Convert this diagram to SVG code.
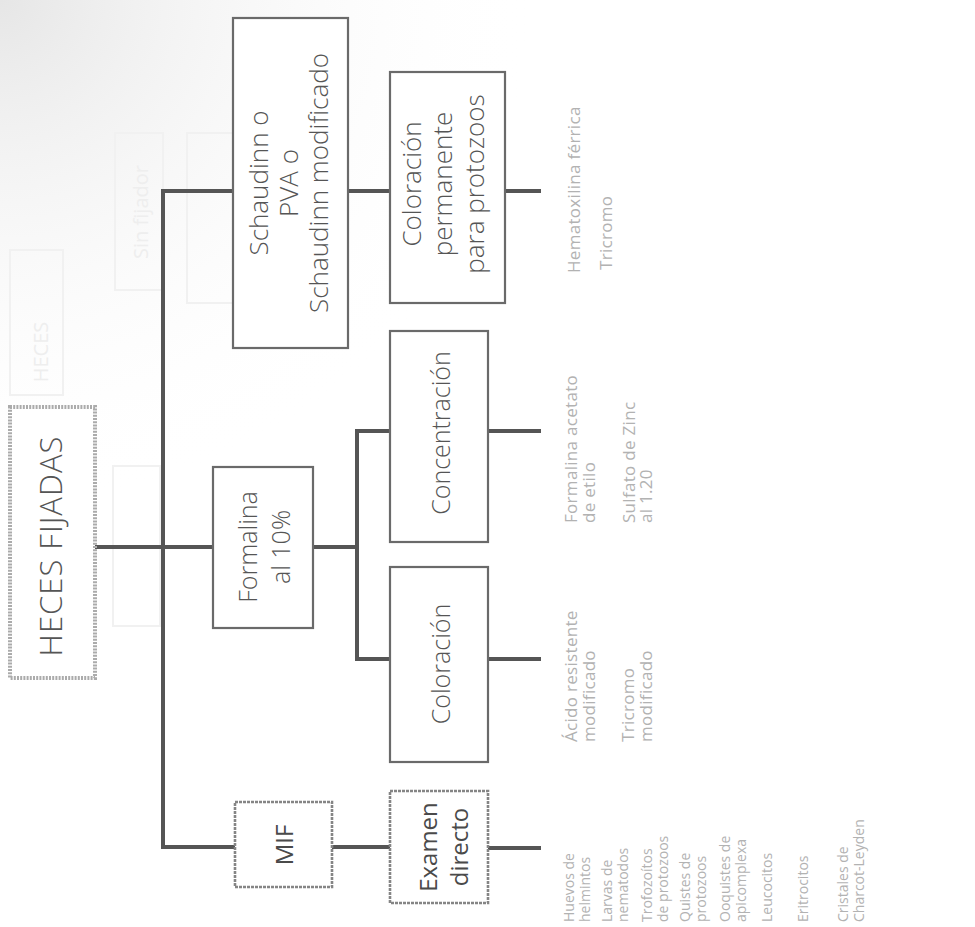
<svg xmlns="http://www.w3.org/2000/svg" width="975" height="927" viewBox="0 0 975 927">
  <defs>
    <radialGradient id="shade" cx="0" cy="0" r="0.55">
      <stop offset="0" stop-color="#e6e6e6"/>
      <stop offset="1" stop-color="#ffffff" stop-opacity="0"/>
    </radialGradient>
    <style>
      .box { fill: #ffffff; stroke: #6a6a6a; stroke-width: 2.2; }
      .box-soft { fill: #ffffff; stroke: #858585; stroke-width: 2.6; stroke-dasharray: 3 1; }
      .box-root { fill: #ffffff; stroke: #ababab; stroke-width: 4; stroke-dasharray: 2 1.2; }
      .wire { fill: none; stroke: #555555; stroke-width: 4; stroke-linejoin: miter; }
      .lbl { font-family: "Open Sans", "Liberation Sans", sans-serif; font-weight: 300; fill: #555555; text-anchor: middle; }
      .lbl-dark { font-family: "Open Sans", "Liberation Sans", sans-serif; font-weight: 400; fill: #4a4a4a; text-anchor: middle; }
      .out { font-family: "Open Sans", "Liberation Sans", sans-serif; font-size: 14px; fill: #b2b2b2; text-anchor: start; }
      .out-l { font-family: "Open Sans", "Liberation Sans", sans-serif; font-size: 17px; letter-spacing: 0.3px; fill: #b2b2b2; text-anchor: start; }
      .ghost { fill: none; stroke: #f1f1f1; stroke-width: 2; }
      .ghost-t { font-family: "Open Sans", "Liberation Sans", sans-serif; font-size: 20px; fill: #eeeeee; text-anchor: middle; }
    </style>
  </defs>

  <!-- paper -->
  <rect width="975" height="927" fill="#ffffff"/>
  <rect width="975" height="927" fill="url(#shade)"/>

  <!-- faint show-through from the reverse side of the sheet -->
  <g id="show-through">
    <rect class="ghost" x="10" y="250" width="53" height="145"/>
    <text class="ghost-t" transform="translate(48,352) rotate(-90)">HECES</text>
    <rect class="ghost" x="115" y="133" width="48" height="157"/>
    <text class="ghost-t" transform="translate(148,212) rotate(-90)">Sin fijador</text>
    <rect class="ghost" x="187" y="133" width="46" height="170"/>
    <rect class="ghost" x="113" y="466" width="47" height="160"/>
  </g>

  <!-- connectors -->
  <g id="connectors">
    <!-- root to first-level trunk -->
    <polyline class="wire" points="95,547 213,547"/>
    <polyline class="wire" points="233,191 163,191 163,847 235,847"/>
    <!-- Schaudinn branch -->
    <polyline class="wire" points="348,191 390,191"/>
    <polyline class="wire" points="505,191 541,191"/>
    <!-- Formalina branch -->
    <polyline class="wire" points="313,547 357,547"/>
    <polyline class="wire" points="390,431 357,431 357,659 390,659"/>
    <polyline class="wire" points="488,431 541,431"/>
    <polyline class="wire" points="488,659 541,659"/>
    <!-- MIF branch -->
    <polyline class="wire" points="332,847 390,847"/>
    <polyline class="wire" points="488,848 541,848"/>
  </g>

  <!-- nodes -->
  <g id="heces-fijadas">
    <rect class="box-root" x="10" y="407" width="85" height="271"/>
    <text class="lbl" font-size="31" letter-spacing="1" transform="translate(62,546) rotate(-90)">HECES FIJADAS</text>
  </g>

  <g id="schaudinn">
    <rect class="box" x="233" y="18" width="115" height="330"/>
    <text class="lbl" font-size="26" transform="translate(268,183) rotate(-90)">Schaudinn o</text>
    <text class="lbl" font-size="26" transform="translate(298,183) rotate(-90)">PVA o</text>
    <text class="lbl" font-size="26" transform="translate(328,183) rotate(-90)">Schaudinn modificado</text>
  </g>

  <g id="coloracion-permanente">
    <rect class="box" x="390" y="72" width="115" height="231"/>
    <text class="lbl" font-size="26" transform="translate(421,184) rotate(-90)">Coloración</text>
    <text class="lbl" font-size="26" transform="translate(452,184) rotate(-90)">permanente</text>
    <text class="lbl" font-size="26" transform="translate(484,184) rotate(-90)">para protozoos</text>
  </g>

  <g id="formalina">
    <rect class="box" x="213" y="467" width="100" height="161"/>
    <text class="lbl" font-size="25" transform="translate(257,547) rotate(-90)">Formalina</text>
    <text class="lbl" font-size="25" transform="translate(290,547) rotate(-90)">al 10%</text>
  </g>

  <g id="concentracion">
    <rect class="box" x="390" y="331" width="98" height="211"/>
    <text class="lbl" font-size="25" transform="translate(450,433) rotate(-90)">Concentración</text>
  </g>

  <g id="coloracion">
    <rect class="box" x="390" y="567" width="98" height="195"/>
    <text class="lbl" font-size="25" transform="translate(450,664) rotate(-90)">Coloración</text>
  </g>

  <g id="mif">
    <rect class="box-soft" x="235" y="802" width="97" height="85"/>
    <text class="lbl-dark" font-size="24" transform="translate(293,845) rotate(-90)">MIF</text>
  </g>

  <g id="examen-directo">
    <rect class="box-soft" x="390" y="791" width="98" height="112"/>
    <text class="lbl-dark" font-size="24" transform="translate(437,847) rotate(-90)">Examen</text>
    <text class="lbl-dark" font-size="24" transform="translate(468,847) rotate(-90)">directo</text>
  </g>

  <!-- findings for each procedure -->
  <g id="findings-permanente">
    <text class="out-l" transform="translate(580,273) rotate(-90)">Hematoxilina férrica</text>
    <text class="out-l" transform="translate(612,270) rotate(-90)">Tricromo</text>
  </g>

  <g id="findings-concentracion">
    <text class="out-l" transform="translate(577,523) rotate(-90)">Formalina acetato</text>
    <text class="out-l" transform="translate(595,523) rotate(-90)">de etilo</text>
    <text class="out-l" transform="translate(635,523) rotate(-90)">Sulfato de Zinc</text>
    <text class="out-l" transform="translate(652,523) rotate(-90)">al 1.20</text>
  </g>

  <g id="findings-coloracion">
    <text class="out-l" transform="translate(577,742) rotate(-90)">Ácido resistente</text>
    <text class="out-l" transform="translate(595,742) rotate(-90)">modificado</text>
    <text class="out-l" transform="translate(634,742) rotate(-90)">Tricromo</text>
    <text class="out-l" transform="translate(652,742) rotate(-90)">modificado</text>
  </g>

  <g id="findings-examen">
    <text class="out" transform="translate(574,922) rotate(-90)">Huevos de</text>
    <text class="out" transform="translate(590,922) rotate(-90)">helmintos</text>
    <text class="out" transform="translate(612,922) rotate(-90)">Larvas de</text>
    <text class="out" transform="translate(628,922) rotate(-90)">nematodos</text>
    <text class="out" transform="translate(652,922) rotate(-90)">Trofozoítos</text>
    <text class="out" transform="translate(668,922) rotate(-90)">de protozoos</text>
    <text class="out" transform="translate(690,922) rotate(-90)">Quistes de</text>
    <text class="out" transform="translate(706,922) rotate(-90)">protozoos</text>
    <text class="out" transform="translate(730,922) rotate(-90)">Ooquistes de</text>
    <text class="out" transform="translate(746,922) rotate(-90)">apicomplexa</text>
    <text class="out" transform="translate(772,922) rotate(-90)">Leucocitos</text>
    <text class="out" transform="translate(808,922) rotate(-90)">Eritrocitos</text>
    <text class="out" transform="translate(848,922) rotate(-90)">Cristales de</text>
    <text class="out" transform="translate(864,922) rotate(-90)">Charcot-Leyden</text>
  </g>
</svg>
